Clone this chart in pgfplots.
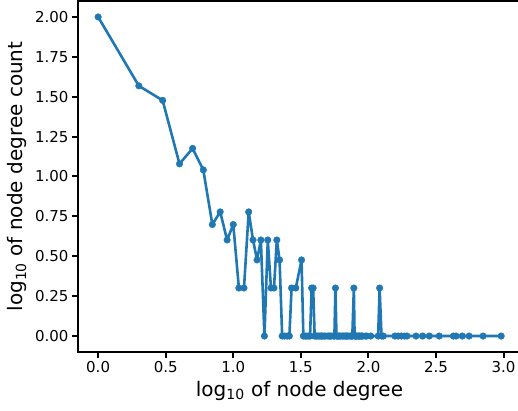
\documentclass[border=0pt]{standalone}
\usepackage{fontspec}
\setmainfont{DejaVu Sans}
\usepackage{pgfplots}
\pgfplotsset{compat=1.18}
\definecolor{tabblue}{RGB}{31,119,180}
\begin{document}
\begin{tikzpicture}
\begin{axis}[
  scale only axis, width=443pt, height=351pt,
  at={(0,0)}, anchor=south west,
  xmin=-0.149, xmax=3.129, ymin=-0.1, ymax=2.1,
  xtick={0,0.5,...,3}, ytick={0,0.25,...,2},
  xtick pos=bottom, ytick pos=left,
  tick align=outside, major tick length=6pt,
  axis line style={line width=2.6pt, black},
  every tick/.style={line width=2pt, black},
  /pgf/number format/assume math mode=true,
  tick label style={font=\fontsize{15}{18}\selectfont},
  xticklabel style={/pgf/number format/.cd, fixed, fixed zerofill, precision=1},
  yticklabel style={/pgf/number format/.cd, fixed, fixed zerofill, precision=2},
  label style={font=\fontsize{20}{24}\selectfont},
  xlabel={log\textsubscript{10} of node degree},
  ylabel={log\textsubscript{10} of node degree count},
  xlabel style={at={(axis description cs:0.5,-0.1254)}, anchor=base},
  ylabel style={at={(axis description cs:-0.1242,0.5)}, anchor=base},
]
\addplot[tabblue, line width=2.6pt, line join=round, line cap=round,
  mark=*, mark size=3.3pt,
  mark options={line width=0.4pt, fill=tabblue, draw=tabblue}] coordinates {
  (0, 2)
  (0.30103, 1.56820)
  (0.47712, 1.47712)
  (0.60206, 1.07918)
  (0.69897, 1.17609)
  (0.77815, 1.04139)
  (0.84510, 0.69897)
  (0.90309, 0.77815)
  (0.95424, 0.60206)
  (1.00000, 0.69897)
  (1.04139, 0.30103)
  (1.07918, 0.30103)
  (1.11394, 0.77815)
  (1.14613, 0.60206)
  (1.17609, 0.47712)
  (1.20412, 0.60206)
  (1.23045, 0)
  (1.25527, 0.60206)
  (1.27875, 0.30103)
  (1.30103, 0.30103)
  (1.32222, 0.60206)
  (1.34242, 0.47712)
  (1.36173, 0)
  (1.38021, 0)
  (1.39794, 0)
  (1.41497, 0)
  (1.43136, 0.30103)
  (1.46240, 0.30103)
  (1.50515, 0.47712)
  (1.51851, 0)
  (1.53148, 0)
  (1.54407, 0)
  (1.55630, 0)
  (1.56820, 0)
  (1.57978, 0.30103)
  (1.59106, 0.30103)
  (1.60206, 0)
  (1.61278, 0)
  (1.62325, 0)
  (1.63347, 0)
  (1.64345, 0)
  (1.65321, 0)
  (1.66276, 0)
  (1.67210, 0)
  (1.68124, 0)
  (1.69897, 0)
  (1.70757, 0)
  (1.71600, 0)
  (1.72428, 0)
  (1.74036, 0)
  (1.74819, 0)
  (1.75587, 0.30103)
  (1.76343, 0)
  (1.77085, 0)
  (1.77815, 0)
  (1.78533, 0)
  (1.79239, 0)
  (1.80618, 0)
  (1.81291, 0)
  (1.82607, 0)
  (1.83251, 0)
  (1.83885, 0)
  (1.84510, 0)
  (1.85733, 0)
  (1.86923, 0)
  (1.87506, 0)
  (1.88081, 0)
  (1.89209, 0.30103)
  (1.89763, 0)
  (1.90309, 0)
  (1.90849, 0)
  (1.91381, 0)
  (1.92428, 0)
  (1.92942, 0)
  (1.93450, 0)
  (1.94448, 0)
  (1.94939, 0)
  (1.95904, 0)
  (1.97772, 0)
  (1.98677, 0)
  (2.01703, 0)
  (2.07188, 0)
  (2.08279, 0.30103)
  (2.09691, 0)
  (2.11059, 0)
  (2.19590, 0)
  (2.22011, 0)
  (2.24304, 0)
  (2.26717, 0)
  (2.28556, 0)
  (2.35218, 0)
  (2.40140, 0)
  (2.45025, 0)
  (2.52375, 0)
  (2.62839, 0)
  (2.64836, 0)
  (2.69461, 0)
  (2.74507, 0)
  (2.84819, 0)
  (2.98227, 0)
};
\end{axis}
\pgfresetboundingbox
\useasboundingbox (-78pt,-59pt) rectangle (440pt,352pt);
\end{tikzpicture}
\end{document}
